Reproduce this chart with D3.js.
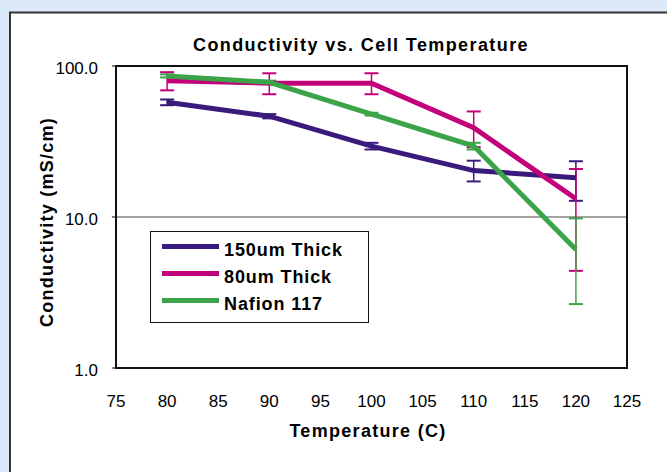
<!DOCTYPE html>
<html><head><meta charset="utf-8">
<script src="https://cdn.jsdelivr.net/npm/d3@7"></script>
<style>body{margin:0;background:#dbe9f8;}svg{display:block;}</style>
</head><body>
<svg id="c" width="667" height="472"></svg>
<script>
const temps = [80, 90, 100, 110, 120];
const seriesNames = ["150um Thick", "80um Thick", "Nafion 117"];
const colors = ["#3a1a7c", "#c2007a", "#3ba449"];
const val150 = [57.5, 46.5, 29.5, 20.3, 18.2];
const hi150 = [60, 48, 31, 23.6, 23.4];
const lo150 = [55, 45, 28, 17.2, 12.8];
const val80 = [80, 77, 77, 39, 13.2];
const hi80 = [91, 89.5, 89.5, 50, 20.8];
const lo80 = [69, 65, 65, 29, 4.4];
const valNaf = [86, 78, 48, 29.5, 6.1];
const hiNaf = [88, 80, 49, 31, 9.8];
const loNaf = [84, 76, 47, 28, 2.65];
const xTicks = [75, 80, 85, 90, 95, 100, 105, 110, 115, 120, 125];
const yTicks = [1, 10, 100];

const FONT = "Liberation Sans, Arial, sans-serif";
const svg = d3.select("#c");
// panel
svg.append("rect").attr("x", 10).attr("y", 12.5).attr("width", 700).attr("height", 500)
  .attr("fill", "#fff").attr("stroke", "#333").attr("stroke-width", 2);

const L = 116, R = 627, T = 66, B = 368;
const x = d3.scaleLinear().domain([75, 125]).range([L, R]);
const y = d3.scaleLog().domain([1, 100]).range([B, T]);

// gridline at 10
svg.append("line").attr("x1", L).attr("x2", R).attr("y1", y(10)).attr("y2", y(10))
  .attr("stroke", "#444").attr("stroke-width", 1);

// x axis labels
svg.append("g").selectAll("text").data(xTicks).join("text")
  .attr("x", d => x(d)).attr("y", 407).attr("text-anchor", "middle")
  .attr("font-family", FONT).attr("font-size", 17)
  .attr("fill", "#000").text(d => d);
// y axis labels
svg.append("g").selectAll("text").data(yTicks).join("text")
  .attr("x", 98).attr("y", d => y(d) + 8).attr("text-anchor", "end")
  .attr("font-family", FONT).attr("font-size", 17)
  .attr("fill", "#000").text(d => d.toFixed(1));
svg.append("g").selectAll("line").data(yTicks).join("line")
  .attr("x1", L - 4).attr("x2", L).attr("y1", d => y(d)).attr("y2", d => y(d))
  .attr("stroke", "#000").attr("stroke-width", 1);

const series = [
  {name: seriesNames[0], v: val150, hi: hi150, lo: lo150, c: colors[0]},
  {name: seriesNames[1], v: val80, hi: hi80, lo: lo80, c: colors[1]},
  {name: seriesNames[2], v: valNaf, hi: hiNaf, lo: loNaf, c: colors[2]}
];
const line = d3.line().x(d => x(d[0])).y(d => y(d[1]));

series.forEach(s => {
  const g = svg.append("g");
  temps.forEach((t, i) => {
    g.append("line").attr("x1", x(t)).attr("x2", x(t)).attr("y1", y(s.hi[i])).attr("y2", y(s.lo[i]))
      .attr("stroke", s.c).attr("stroke-width", 1.5);
    [s.hi[i], s.lo[i]].forEach(e => g.append("line").attr("x1", x(t) - 7).attr("x2", x(t) + 7)
      .attr("y1", y(e)).attr("y2", y(e)).attr("stroke", s.c).attr("stroke-width", 2));
  });
});
series.forEach(s => {
  svg.append("path").datum(temps.map((t, i) => [t, s.v[i]])).attr("d", line)
    .attr("fill", "none").attr("stroke", s.c).attr("stroke-width", 5);
});

// plot border
svg.append("rect").attr("x", L).attr("y", T).attr("width", R - L).attr("height", B - T)
  .attr("fill", "none").attr("stroke", "#111").attr("stroke-width", 2);

// legend
svg.append("rect").attr("x", 150.5).attr("y", 231.5).attr("width", 218).attr("height", 91)
  .attr("fill", "#fff").attr("stroke", "#111").attr("stroke-width", 1);
const lg = svg.append("g").selectAll("g").data(series).join("g")
  .attr("transform", (d, i) => `translate(0,${246.5 + i * 27})`);
lg.append("line").attr("x1", 162).attr("x2", 219).attr("y1", 0).attr("y2", 0)
  .attr("stroke", d => d.c).attr("stroke-width", 5);
lg.append("text").attr("x", 224).attr("y", 9.5).attr("font-family", FONT)
  .attr("font-size", 18).attr("font-weight", "bold").attr("letter-spacing", 0.9)
  .attr("fill", "#000").text(d => d.name);

// titles
svg.append("text").attr("x", 361).attr("y", 51).attr("text-anchor", "middle")
  .attr("font-family", FONT).attr("font-size", 18).attr("font-weight", "bold").attr("letter-spacing", 1.4)
  .attr("fill", "#000").text("Conductivity vs. Cell Temperature");
svg.append("text").attr("x", 368).attr("y", 437).attr("text-anchor", "middle")
  .attr("font-family", FONT).attr("font-size", 18).attr("font-weight", "bold")
  .attr("fill", "#000").attr("letter-spacing", 1.3).text("Temperature (C)");
svg.append("text").attr("transform", "translate(53,222) rotate(-90)").attr("text-anchor", "middle")
  .attr("font-family", FONT).attr("font-size", 18).attr("font-weight", "bold").attr("letter-spacing", 1.25)
  .attr("fill", "#000").text("Conductivity (mS/cm)");
</script>
</body></html>
